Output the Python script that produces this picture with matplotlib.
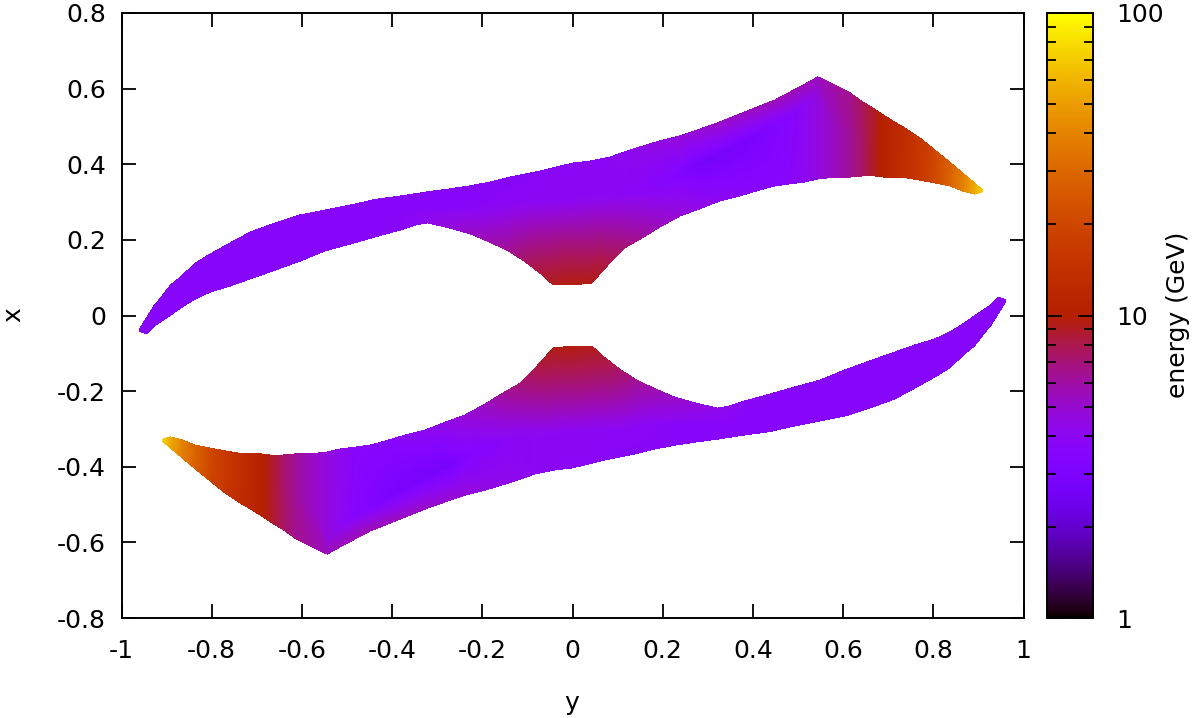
import numpy as np
import matplotlib
matplotlib.use("Agg")
import matplotlib.pyplot as plt
from matplotlib.colors import LogNorm
from matplotlib.cm import ScalarMappable
from matplotlib.ticker import FixedFormatter, FixedLocator, LogLocator
from matplotlib.tri import Triangulation

# upper lobe
y_up = [-0.960, -0.945, -0.929, -0.914, -0.891, -0.869, -0.836, -0.803, -0.759, -0.714,
        -0.659, -0.604, -0.548, -0.493, -0.437, -0.382, -0.349, -0.322, -0.271, -0.227,
        -0.183, -0.138, -0.105, -0.072, -0.045, 0.000, 0.043, 0.061, 0.083, 0.116,
        0.150, 0.194, 0.238, 0.282, 0.327, 0.371, 0.415, 0.449, 0.482, 0.515,
        0.544, 0.581, 0.615, 0.641, 0.670, 0.692, 0.714, 0.741, 0.770, 0.803,
        0.836, 0.865, 0.891, 0.909]
x_up_top = [-0.036, -0.007, 0.024, 0.046, 0.081, 0.102, 0.139, 0.163, 0.192, 0.221,
            0.245, 0.266, 0.279, 0.292, 0.307, 0.316, 0.322, 0.327, 0.335, 0.343,
            0.353, 0.366, 0.374, 0.382, 0.390, 0.403, 0.409, 0.414, 0.419, 0.433,
            0.446, 0.462, 0.475, 0.493, 0.512, 0.533, 0.554, 0.570, 0.591, 0.612,
            0.631, 0.610, 0.589, 0.567, 0.546, 0.528, 0.512, 0.493, 0.470, 0.438,
            0.406, 0.377, 0.351, 0.332]
x_up_mid = [-0.038, -0.028, -0.001, 0.015, 0.041, 0.061, 0.092, 0.113, 0.135, 0.159,
            0.183, 0.205, 0.225, 0.240, 0.255, 0.272, 0.280, 0.286, 0.288, 0.290,
            0.292, 0.295, 0.297, 0.300, 0.300, 0.305, 0.310, 0.312, 0.315, 0.320,
            0.330, 0.350, 0.377, 0.400, 0.425, 0.455, 0.485, 0.507, 0.530, 0.560,
            0.591, 0.500, 0.477, 0.468, 0.458, 0.447, 0.439, 0.428, 0.414, 0.394,
            0.374, 0.353, 0.336, 0.330]
x_up_bot = [-0.041, -0.049, -0.030, -0.017, 0.001, 0.020, 0.044, 0.062, 0.078, 0.097,
            0.120, 0.144, 0.171, 0.189, 0.208, 0.226, 0.239, 0.245, 0.231, 0.216,
            0.194, 0.168, 0.142, 0.112, 0.083, 0.081, 0.086, 0.110, 0.139, 0.179,
            0.202, 0.234, 0.263, 0.282, 0.303, 0.316, 0.332, 0.343, 0.348, 0.353,
            0.361, 0.366, 0.366, 0.369, 0.369, 0.366, 0.366, 0.364, 0.358, 0.351,
            0.343, 0.329, 0.321, 0.327]

# lower lobe, same columns
y_lo = [0.960, 0.945, 0.929, 0.914, 0.891, 0.869, 0.836, 0.803, 0.759, 0.714,
        0.659, 0.604, 0.548, 0.493, 0.437, 0.382, 0.349, 0.322, 0.271, 0.227,
        0.183, 0.138, 0.105, 0.072, 0.045, 0.000, -0.043, -0.061, -0.083, -0.116,
        -0.150, -0.194, -0.238, -0.282, -0.327, -0.371, -0.415, -0.449, -0.482, -0.515,
        -0.544, -0.581, -0.615, -0.641, -0.670, -0.692, -0.714, -0.741, -0.770, -0.803,
        -0.836, -0.865, -0.891, -0.909]
x_lo_top = [0.036, 0.007, -0.024, -0.046, -0.081, -0.102, -0.139, -0.163, -0.192, -0.221,
            -0.245, -0.266, -0.279, -0.292, -0.307, -0.316, -0.322, -0.327, -0.335, -0.343,
            -0.353, -0.366, -0.374, -0.382, -0.390, -0.403, -0.409, -0.414, -0.419, -0.433,
            -0.446, -0.462, -0.475, -0.493, -0.512, -0.533, -0.554, -0.570, -0.591, -0.612,
            -0.631, -0.610, -0.589, -0.567, -0.546, -0.528, -0.512, -0.493, -0.470, -0.438,
            -0.406, -0.377, -0.351, -0.332]
x_lo_mid = [0.038, 0.028, 0.001, -0.015, -0.041, -0.061, -0.092, -0.113, -0.135, -0.159,
            -0.183, -0.205, -0.225, -0.240, -0.255, -0.272, -0.280, -0.286, -0.288, -0.290,
            -0.292, -0.295, -0.297, -0.300, -0.300, -0.305, -0.310, -0.312, -0.315, -0.320,
            -0.330, -0.350, -0.377, -0.400, -0.425, -0.455, -0.485, -0.507, -0.530, -0.560,
            -0.591, -0.500, -0.477, -0.468, -0.458, -0.447, -0.439, -0.428, -0.414, -0.394,
            -0.374, -0.353, -0.336, -0.330]
x_lo_bot = [0.041, 0.049, 0.030, 0.017, -0.001, -0.020, -0.044, -0.062, -0.078, -0.097,
            -0.120, -0.144, -0.171, -0.189, -0.208, -0.226, -0.239, -0.245, -0.231, -0.216,
            -0.194, -0.168, -0.142, -0.112, -0.083, -0.081, -0.086, -0.110, -0.139, -0.179,
            -0.202, -0.234, -0.263, -0.282, -0.303, -0.316, -0.332, -0.343, -0.348, -0.353,
            -0.361, -0.366, -0.366, -0.369, -0.369, -0.366, -0.366, -0.364, -0.358, -0.351,
            -0.343, -0.329, -0.321, -0.327]

# energy (GeV) at the outer edge, the dark ridge and the inner edge
e_top = [3.7, 3.7, 3.7, 3.7, 3.7, 3.7, 3.7, 3.7, 3.7, 3.7,
         3.7, 3.7, 3.7, 3.7, 3.7, 3.7, 3.7, 3.7, 3.7, 3.7,
         3.7, 3.7, 3.7, 3.8, 3.9, 3.9, 3.9, 3.9, 4.0, 4.1,
         4.3, 4.5, 4.8, 5.0, 5.2, 5.3, 5.5, 5.6, 5.6, 5.5,
         5.4, 6.0, 6.5, 7.5, 9.0, 10.5, 11.5, 13.0, 15.5, 19.0,
         26.0, 36.0, 52.0, 70.0]
e_mid = [3.7, 3.7, 3.7, 3.7, 3.7, 3.7, 3.7, 3.7, 3.7, 3.7,
         3.7, 3.7, 3.7, 3.7, 3.7, 3.7, 3.7, 3.7, 3.7, 3.7,
         3.8, 3.9, 4.0, 4.0, 4.0, 4.0, 4.0, 4.0, 4.0, 3.9,
         3.8, 3.5, 3.2, 2.7, 2.7, 2.8, 3.0, 3.2, 3.5, 4.0,
         4.6, 5.3, 6.2, 7.3, 9.0, 10.8, 11.8, 13.5, 16.0, 20.0,
         28.0, 38.0, 54.0, 72.0]
e_bot = [3.7, 3.7, 3.7, 3.7, 3.7, 3.7, 3.7, 3.7, 3.7, 3.7,
         3.7, 3.7, 3.7, 3.7, 3.7, 3.8, 4.0, 4.2, 4.7, 5.2,
         5.7, 6.4, 7.4, 8.4, 9.2, 9.5, 9.3, 8.9, 8.0, 7.0,
         6.3, 5.4, 4.8, 4.4, 4.0, 3.8, 3.6, 3.6, 3.7, 4.1,
         4.6, 5.3, 6.2, 7.3, 9.0, 10.8, 11.8, 13.5, 16.0, 20.0,
         28.0, 38.0, 54.0, 72.0]

x_ticks = [-1, -0.8, -0.6, -0.4, -0.2, 0, 0.2, 0.4, 0.6, 0.8, 1]
x_tick_labels = ["-1", "-0.8", "-0.6", "-0.4", "-0.2", "0", "0.2", "0.4", "0.6", "0.8", "1"]
y_ticks = [-0.8, -0.6, -0.4, -0.2, 0, 0.2, 0.4, 0.6, 0.8]
y_tick_labels = ["-0.8", "-0.6", "-0.4", "-0.2", "0", "0.2", "0.4", "0.6", "0.8"]
cb_ticks = [1, 10, 100]
cb_tick_labels = ["1", "10", "100"]

plt.rcParams["font.family"] = "DejaVu Sans"
plt.rcParams["font.size"] = 18

W, H = 1200, 718
fig = plt.figure(figsize=(W / 100, H / 100), dpi=100)
ax = fig.add_axes([121.5 / W, 1 - 618 / H, (1023.5 - 121.5) / W, (618 - 13) / H])
cax = fig.add_axes([1046.5 / W, 1 - 618 / H, 46.5 / W, (618 - 13) / H])

norm = LogNorm(1, 100)
levels = np.logspace(0, 2, 257)


def draw_lobe(ys, x_a, x_b, x_c):
    n = len(ys)
    px = np.concatenate([ys, ys, ys])
    py = np.concatenate([x_a, x_b, x_c])
    vals = np.concatenate([e_top, e_mid, e_bot])
    tris = []
    for row in range(2):
        for i in range(n - 1):
            a = row * n + i
            b = a + 1
            c = a + n
            d = c + 1
            tris.append([a, b, d])
            tris.append([a, d, c])
    tri = Triangulation(px, py, tris)
    ax.tricontourf(tri, vals, levels=levels, norm=norm, cmap="gnuplot", antialiased=False)


draw_lobe(y_up, x_up_top, x_up_mid, x_up_bot)
draw_lobe(y_lo, x_lo_top, x_lo_mid, x_lo_bot)

ax.set_xlim(-1, 1)
ax.set_ylim(-0.8, 0.8)
ax.set_xticks(x_ticks)
ax.set_xticklabels(x_tick_labels)
ax.set_yticks(y_ticks)
ax.set_yticklabels(y_tick_labels)
ax.tick_params(axis="x", direction="in", top=True, length=10, width=1.3, pad=15)
ax.tick_params(axis="y", direction="in", right=True, length=10, width=1.3, pad=11)
for s in ax.spines.values():
    s.set_linewidth(1.4)

cb = fig.colorbar(ScalarMappable(norm=norm, cmap="gnuplot"), cax=cax)
cb.outline.set_linewidth(1.4)
cax.yaxis.set_major_locator(FixedLocator(cb_ticks))
cax.yaxis.set_major_formatter(FixedFormatter(cb_tick_labels))
cax.yaxis.set_minor_locator(LogLocator(base=10, subs=range(2, 10)))
cax.yaxis.set_minor_formatter(FixedFormatter([]))
cax.tick_params(which="major", direction="in", left=True, right=True, length=10.5, width=1.3, pad=17)
cax.tick_params(which="minor", direction="in", left=True, right=True, length=6.5, width=1.3)

fig.text(572 / W, 1 - 703 / H, "y", ha="center", va="center")
fig.text(13 / W, 1 - 315 / H, "x", ha="center", va="center", rotation=90)
fig.text(1178 / W, 1 - 315 / H, "energy (GeV)", ha="center", va="center", rotation=90)

fig.savefig("out.png", dpi=100)
